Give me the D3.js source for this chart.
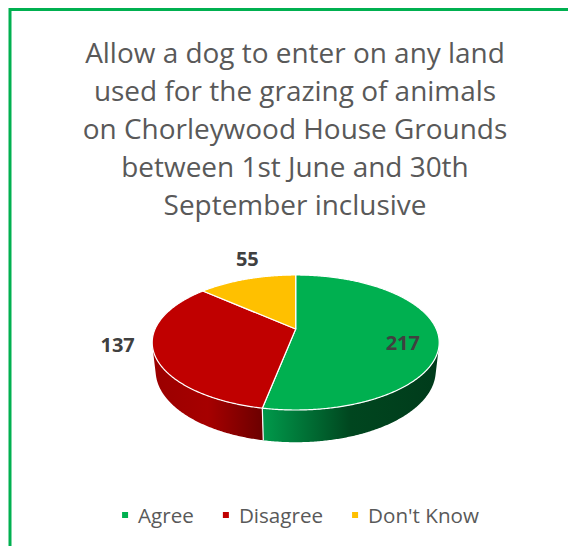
<!DOCTYPE html>
<html>
<head>
<meta charset="utf-8">
<script src="https://cdn.jsdelivr.net/npm/d3@7"></script>
<style>
  html, body { margin: 0; padding: 0; background: #fff; }
  text { font-family: "Open Sans", sans-serif; }
</style>
</head>
<body>
<script>
// chart data
const categories = ["Agree", "Disagree", "Don't Know"];
const values = [217, 137, 55];
const topColors = ["#00B050", "#C00000", "#FFC000"];
const sideColors = [
  ["#009a4b", "#00461f", "#003b1b"],
  ["#9a0000", "#a60000", "#6b0000"],
  ["#c79600", "#b08400", "#8a6800"]
];
const titleLines = [
  "Allow a dog to enter on any land",
  "used for the grazing of animals",
  "on Chorleywood House Grounds",
  "between 1st June and 30th",
  "September inclusive"
];
// label placement in pie units (radius, lift above top face)
const labelRadius = [0.76, 1.22, 0.97];
const labelLift = [-0.07, 0.09, 0.19];

let width = 568, height = 546;

let svg = d3.select("body").append("svg")
  .attr("width", width).attr("height", height);

// green frame (left + top)
svg.append("path")
  .attr("d", "M10,546 L10,9.5 L568,9.5")
  .attr("fill", "none")
  .attr("stroke", "#00B050")
  .attr("stroke-width", 3);

// title
let title = svg.append("g").attr("fill", "#595959");
let t0 = title.append("text").attr("font-size", 24).text(titleLines[0]);
let titleSize = 24 * 420 / t0.node().getComputedTextLength();
t0.remove();
title.selectAll("text")
  .data(titleLines)
  .join("text")
  .attr("x", 295)
  .attr("y", (d, i) => 63.3 + i * 37.9)
  .attr("text-anchor", "middle")
  .attr("font-size", titleSize)
  .text(d => d);

// 3d pie projection
const cx = 295.7, cy = 329, K = 140.6;
const tilt = 27.45 * Math.PI / 180, s = Math.sin(tilt), c = Math.cos(tilt);
const D = 4.44, depthH = 0.228;

function proj(a, r, y) {
  let X = r * Math.sin(a), Z = -r * Math.cos(a);
  let f = D / (D - y * s - Z * c);
  return [cx + K * X * f, cy - K * (y * c - Z * s) * f];
}

function arcPts(a0, a1, r, y) {
  let n = Math.max(2, Math.ceil((a1 - a0) / (Math.PI / 360)));
  return d3.range(n + 1).map(i => proj(a0 + (a1 - a0) * i / n, r, y));
}

let pie = d3.pie().sort(null).value(d => d);
let arcs = pie(values);
let line = d3.line();

// visible part of the outer wall
const vis0 = Math.acos(-1 / (D * c)), vis1 = 2 * Math.PI - vis0;

let defs = svg.append("defs");
let sides = svg.append("g");
let tops = svg.append("g");

arcs.forEach((d, i) => {
  let a0 = Math.max(d.startAngle, vis0), a1 = Math.min(d.endAngle, vis1);
  if (a1 <= a0) return;
  let upper = arcPts(a0, a1, 1, 0);
  let lower = arcPts(a0, a1, 1, -depthH).reverse();
  let pts = upper.concat(lower);
  let xs = d3.extent(pts, p => p[0]);
  let g = defs.append("linearGradient")
    .attr("id", "side" + i)
    .attr("gradientUnits", "userSpaceOnUse")
    .attr("x1", xs[0]).attr("x2", xs[1]).attr("y1", 0).attr("y2", 0);
  g.selectAll("stop").data(sideColors[i]).join("stop")
    .attr("offset", (e, j) => j / (sideColors[i].length - 1))
    .attr("stop-color", e => e);
  sides.append("path")
    .attr("d", line(pts) + "Z")
    .attr("fill", "url(#side" + i + ")");
});

// white seams on the wall between slices
arcs.forEach(d => {
  let a = d.endAngle;
  if (a > vis0 && a < vis1) {
    let p = proj(a, 1, 0), q = proj(a, 1, -depthH);
    sides.append("line")
      .attr("x1", p[0]).attr("y1", p[1]).attr("x2", q[0]).attr("y2", q[1])
      .attr("stroke", "#fff").attr("stroke-width", 1.2);
  }
});

tops.selectAll("path")
  .data(arcs)
  .join("path")
  .attr("d", d => line([proj(0, 0, 0)].concat(arcPts(d.startAngle, d.endAngle, 1, 0))) + "Z")
  .attr("fill", (d, i) => topColors[i])
  .attr("stroke", "#fff")
  .attr("stroke-width", 1.2)
  .attr("stroke-linejoin", "round");

// data labels
svg.append("g").selectAll("text")
  .data(arcs)
  .join("text")
  .attr("x", (d, i) => proj((d.startAngle + d.endAngle) / 2, labelRadius[i], labelLift[i])[0])
  .attr("y", (d, i) => proj((d.startAngle + d.endAngle) / 2, labelRadius[i], labelLift[i])[1])
  .attr("dy", "0.36em")
  .attr("text-anchor", "middle")
  .attr("font-size", 20)
  .attr("font-weight", "bold")
  .attr("fill", "#404040")
  .text(d => d.data);

// legend
let legend = svg.append("g");
let items = legend.selectAll("g")
  .data(categories)
  .join("g");
items.append("rect")
  .attr("width", 6).attr("height", 6)
  .attr("y", 512)
  .attr("fill", (d, i) => topColors[i]);
let legendText = items.append("text")
  .attr("x", 16)
  .attr("y", 523)
  .attr("font-size", 19)
  .attr("fill", "#595959")
  .text(d => d);
// fit legend text so the three labels take the same room as in the original
let textSum = d3.sum(legendText.nodes(), n => n.getComputedTextLength());
let legendSize = 19 * (357 - 3 * 16 - 2 * 29) / textSum;
legendText.attr("font-size", legendSize);
let offs = [], acc = 0;
items.each(function() {
  offs.push(acc);
  acc += 16 + d3.select(this).select("text").node().getComputedTextLength() + 29;
});
let total = acc - 29;
items.attr("transform", (d, i) => `translate(${300.5 - total / 2 + offs[i]},0)`);
</script>
</body>
</html>
